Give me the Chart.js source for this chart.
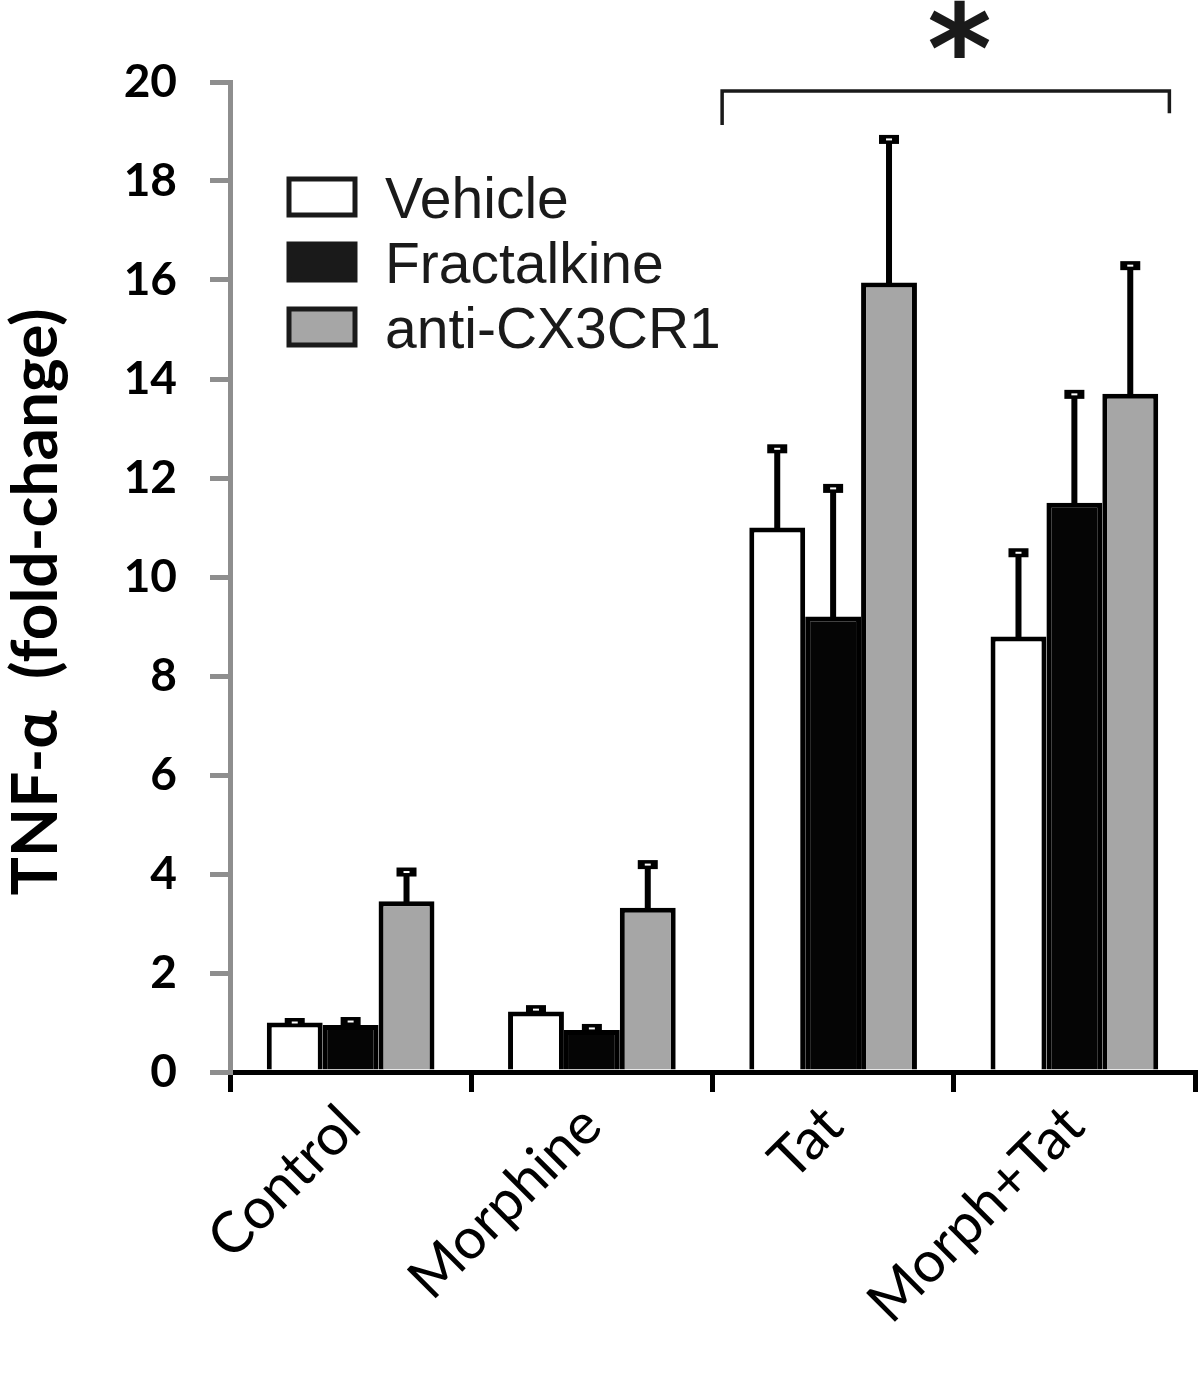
<!DOCTYPE html>
<html><head><meta charset="utf-8">
<script src="https://cdn.jsdelivr.net/npm/chart.js@4.4.1/dist/chart.umd.min.js"></script>
<style>html,body{margin:0;padding:0;background:#fff;} canvas{display:block;}</style>
</head><body>
<canvas id="c" width="1200" height="1373"></canvas>
<script>
// ---- data ----
const categories = ['Control', 'Morphine', 'Tat', 'Morph+Tat'];
const seriesNames = ['Vehicle', 'Fractalkine', 'anti-CX3CR1'];
const vehicleMean = [1.0, 1.22, 11.0, 8.8];
const vehicleSem = [0.01, 0.05, 1.6, 1.7];
const fractalkineMean = [0.95, 0.85, 9.2, 11.5];
const fractalkineSem = [0.08, 0.04, 2.6, 2.2];
const antiMean = [3.45, 3.32, 15.95, 13.7];
const antiSem = [0.6, 0.88, 2.9, 2.6];
const yTicks = [0, 2, 4, 6, 8, 10, 12, 14, 16, 18, 20];
const yTitle = 'TNF-\u03B1  (fold-change)';
const significance = '*';

const fills = ['#ffffff', '#050505', '#a6a6a6'];
const legendFills = ['#ffffff', '#1a1a1a', '#a6a6a6'];
const means = [vehicleMean, fractalkineMean, antiMean];
const sems = [vehicleSem, fractalkineSem, antiSem];

const errorBars = {
  id: 'errorBars',
  afterDatasetsDraw(chart) {
    const ctx = chart.ctx, y = chart.scales.y;
    ctx.save();
    chart.data.datasets.forEach((ds, di) => {
      const meta = chart.getDatasetMeta(di);
      meta.data.forEach((bar, i) => {
        const top = y.getPixelForValue(ds.data[i]);
        const hi = y.getPixelForValue(ds.data[i] + ds.sem[i]);
        ctx.fillStyle = '#000';
        ctx.fillRect(bar.x - 3, hi, 6, top - hi + 2);
        ctx.fillRect(bar.x - 10, hi - 4, 20, 9);
        ctx.fillStyle = '#fff';
        ctx.fillRect(bar.x - 3, hi - 0.5, 6, 2);
      });
    });
    ctx.restore();
  }
};

const decorations = {
  id: 'decorations',
  afterDraw(chart) {
    const ctx = chart.ctx, x = chart.scales.x, y = chart.scales.y, a = chart.chartArea;
    ctx.save();
    // y-axis title
    ctx.translate(36, (a.top + a.bottom) / 2 + 25);
    ctx.rotate(-Math.PI / 2);
    ctx.fillStyle = '#000';
    ctx.font = 'bold 64px Lato, sans-serif';
    ctx.textAlign = 'center';
    ctx.textBaseline = 'middle';
    ctx.fillText(yTitle, 0, 0);
    ctx.restore();
    ctx.save();
    // legend
    const lx = a.left + 59, ly = a.top + 97;
    seriesNames.forEach((n, i) => {
      const top = ly + i * 65;
      ctx.fillStyle = legendFills[i];
      ctx.fillRect(lx, top, 66, 36);
      ctx.strokeStyle = '#1a1a1a';
      ctx.lineWidth = 5;
      ctx.strokeRect(lx, top, 66, 36);
      ctx.fillStyle = '#1a1a1a';
      ctx.font = '57px "Liberation Sans", Arial, sans-serif';
      ctx.textBaseline = 'alphabetic';
      ctx.textAlign = 'left';
      ctx.fillText(n, lx + 96, top + 39);
    });
    // bracket
    const bl = x.getPixelForValue(2) - 111, br = x.getPixelForValue(3) + 95;
    const by = y.getPixelForValue(19.82);
    ctx.strokeStyle = '#1a1a1a';
    ctx.lineWidth = 3.5;
    ctx.beginPath();
    ctx.moveTo(bl, y.getPixelForValue(19.13));
    ctx.lineTo(bl, by);
    ctx.lineTo(br, by);
    ctx.lineTo(br, y.getPixelForValue(19.37));
    ctx.stroke();
    // asterisk, sized and centred by its measured ink box
    ctx.fillStyle = '#1a1a1a';
    ctx.font = 'bold 100px "DejaVu Sans", sans-serif';
    let m = ctx.measureText(significance);
    const h0 = m.actualBoundingBoxAscent + m.actualBoundingBoxDescent;
    const size = 100 * 58 / h0;
    ctx.font = 'bold ' + size + 'px "DejaVu Sans", sans-serif';
    m = ctx.measureText(significance);
    ctx.textAlign = 'left';
    ctx.textBaseline = 'alphabetic';
    const cx = (bl + br) / 2 + 14, cy = 29;
    const w = m.actualBoundingBoxLeft + m.actualBoundingBoxRight;
    ctx.fillText(significance, cx - w / 2 + m.actualBoundingBoxLeft,
                 cy + (m.actualBoundingBoxAscent - m.actualBoundingBoxDescent) / 2);
    ctx.restore();
  }
};

new Chart(document.getElementById('c'), {
  type: 'bar',
  data: {
    labels: categories,
    datasets: seriesNames.map((n, i) => ({
      label: n,
      data: means[i],
      sem: sems[i],
      backgroundColor: fills[i],
      borderColor: '#000',
      borderWidth: 5,
      barPercentage: 1.0,
      categoryPercentage: 0.695
    }))
  },
  options: {
    responsive: false,
    animation: false,
    events: [],
    layout: { padding: { top: 82, right: 5, left: 0, bottom: 0 } },
    plugins: { legend: { display: false }, tooltip: { enabled: false } },
    scales: {
      x: {
        offset: true,
        grid: { offset: true, drawOnChartArea: false, color: '#000', lineWidth: 5, tickLength: 20 },
        border: { color: '#000', width: 5 },
        ticks: {
          autoSkip: false, minRotation: 45, maxRotation: 45, padding: 0,
          color: '#000', font: { family: 'Lato', size: 57 }
        },
        afterFit(s) { s.height = 301; }
      },
      y: {
        min: 0, max: 20,
        afterBuildTicks(s) { s.ticks = yTicks.map(v => ({ value: v })); },
        grid: { drawOnChartArea: false, color: '#8e8e8e', lineWidth: 5, tickLength: 20 },
        border: { color: '#8e8e8e', width: 5 },
        ticks: { color: '#000', padding: 33, font: { family: 'Lato', size: 46, weight: 'bold' } },
        title: { display: false, text: yTitle },
        afterFit(s) { s.width = 230; }
      }
    }
  },
  plugins: [errorBars, decorations]
});
</script>
</body></html>
